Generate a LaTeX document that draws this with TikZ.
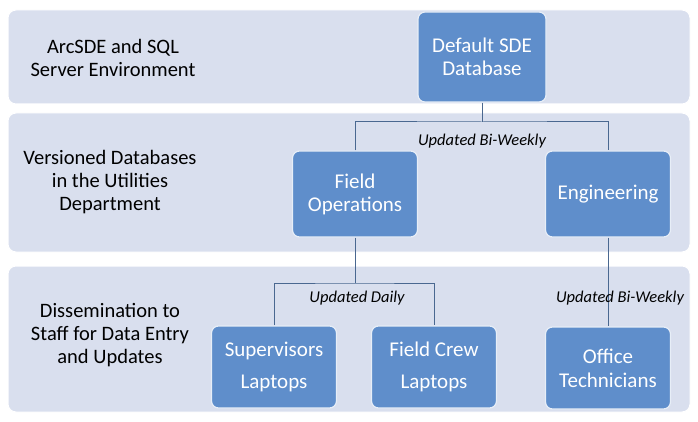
\documentclass[tikz,border=0pt]{standalone}
\usepackage{fontspec}
\setmainfont{Carlito}
\definecolor{bandfill}{HTML}{D9DFEE}
\definecolor{boxfill}{HTML}{5F8ECB}
\definecolor{linecol}{HTML}{4A6890}
\tikzset{
  band/.style={fill=bandfill, draw=white, line width=1pt, rounded corners=8pt},
  unit/.style={fill=boxfill, draw=white!85!boxfill, line width=1.2pt, rounded corners=7pt,
    text=white, font=\fontsize{21}{23}\selectfont, align=center, inner sep=0pt},
  bandlabel/.style={font=\fontsize{20.5}{23}\selectfont, align=center, text=black},
  conn/.style={draw=linecol, line width=1pt},
  upd/.style={font=\itshape\fontsize{16.5}{18}\selectfont, text=black}
}
\begin{document}
\begin{tikzpicture}[x=1pt,y=-1pt]
\useasboundingbox (0,0) rectangle (698,422);
\fill[white] (0,0) rectangle (698,422);
% bands
\path[band] (8,10) rectangle (690,104);
\path[band] (8,113) rectangle (690,252);
\path[band] (8,266) rectangle (690,412);
% band labels
\node[bandlabel] (l1) at (113,58) {ArcSDE and SQL\\Server Environment};
\node[bandlabel] (l2) at (110,182) {Versioned Databases\\in the Utilities\\Department};
\node[bandlabel] (l3) at (110,335) {Dissemination to\\Staff for Data Entry\\and Updates};
% boxes
\node[unit, minimum width=128pt, minimum height=90pt] (sde) at (482,57) {Default SDE\\Database};
\node[unit, minimum width=125pt, minimum height=86pt] (fo) at (355,194) {Field\\Operations};
\node[unit, minimum width=125pt, minimum height=86pt] (eng) at (608,194) {Engineering};
\node[unit, minimum width=125pt, minimum height=82pt, font=\fontsize{21}{32}\selectfont] (sup) at (274,367) {Supervisors\\Laptops};
\node[unit, minimum width=125pt, minimum height=82pt, font=\fontsize{21}{32}\selectfont] (fc) at (434,367) {Field Crew\\Laptops};
\node[unit, minimum width=125pt, minimum height=82pt, font=\fontsize{21}{24}\selectfont] (ot) at (608,368) {Office\\Technicians};
% connectors
\coordinate (j1) at (482,122);
\coordinate (j2) at (355,283);
\draw[conn] (sde.south) -- (j1);
\draw[conn] (fo.north) |- (j1) -| (eng.north);
\draw[conn] (fo.south) -- (j2);
\draw[conn] (sup.north) |- (j2) -| (fc.north);
\draw[conn] (eng.south) -- (ot.north);
% labels
\node[upd] (u1) at (482,141) {Updated Bi-Weekly};
\node[upd] (u2) at (357,298) {Updated Daily};
\node[upd] (u3) at (620,298) {Updated Bi-Weekly};
\end{tikzpicture}
\end{document}
